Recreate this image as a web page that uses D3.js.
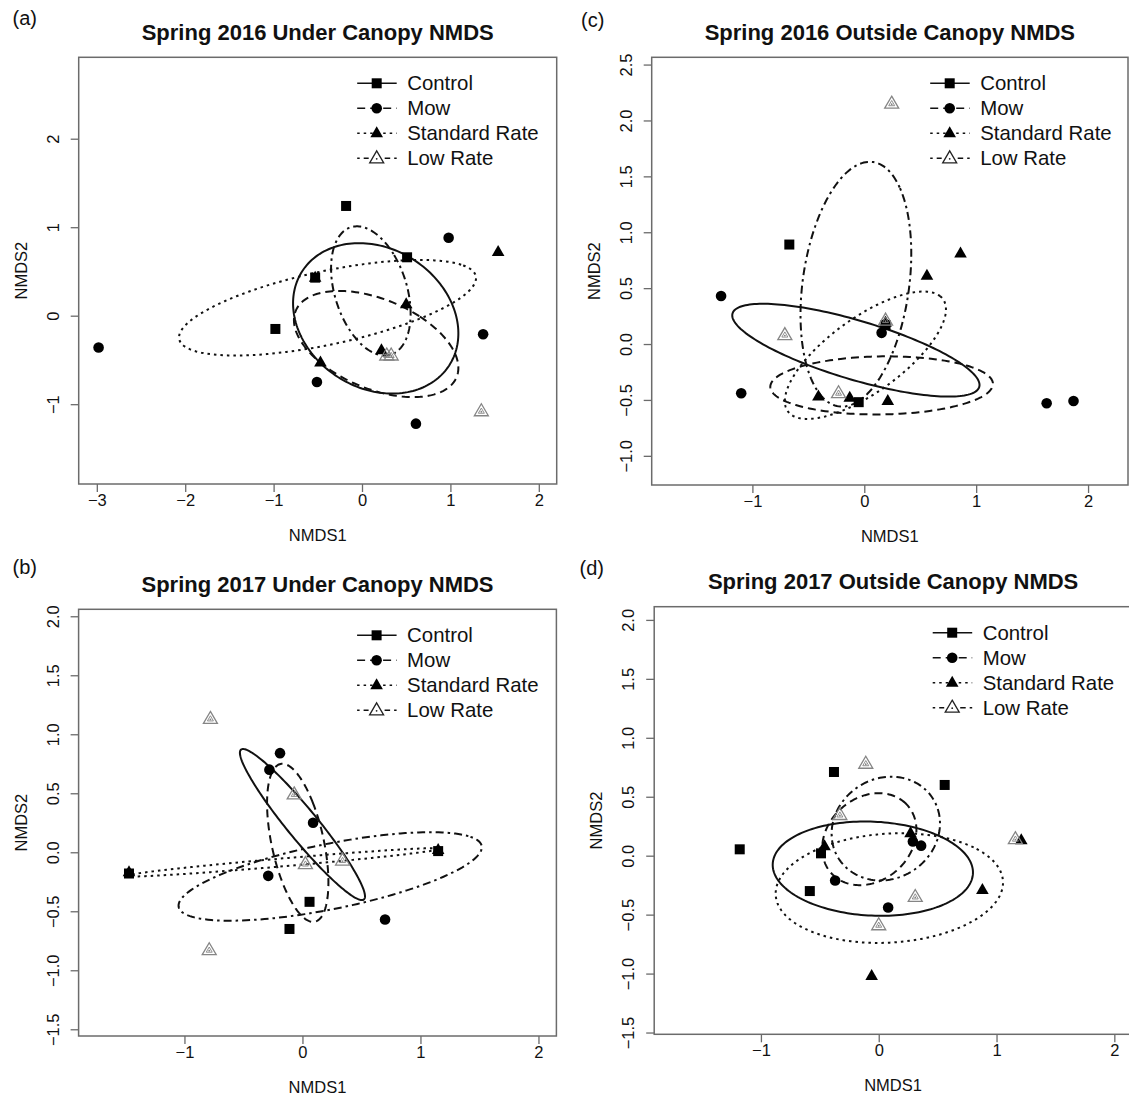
<!DOCTYPE html>
<html>
<head>
<meta charset="utf-8">
<script src="https://cdn.jsdelivr.net/npm/d3@7"></script>
<style>
  body { margin: 0; background: #fff; }
  svg { display: block; font-family: "Liberation Sans", Arial, sans-serif; }
</style>
</head>
<body>
<div id="chart"></div>
<script>
const width = 1129;
const height = 1096;

const groups = ["Control", "Mow", "Standard Rate", "Low Rate"];
const dashes = [null, "8,5", "2.5,4", "2.5,4,8,4"];

// ---- (a) Spring 2016 Under Canopy ----
const aXTicks = [-3, -2, -1, 0, 1, 2];
const aYTicks = [-1, 0, 1, 2];
const aControl = [[-0.18, 1.24], [0.51, 0.66], [-0.98, -0.15], [-0.53, 0.43]];
const aMow = [[0.98, 0.88], [-2.98, -0.36], [1.37, -0.21], [-0.51, -0.75], [0.61, -1.22]];
const aStandard = [[1.54, 0.72], [-0.53, 0.43], [0.5, 0.13], [0.22, -0.39], [-0.47, -0.53]];
const aLow = [[0.28, -0.45], [0.33, -0.45], [1.35, -1.08]];
// ellipse: [cx, cy, sx, sy, rho]
const aEllipses = [
  [0.155, -0.03, 0.935, 0.85, -0.2],
  [0.16, -0.32, 0.93, 0.6, -0.45],
  [-0.39, 0.09, 1.68, 0.54, 0.62],
  [0.1, 0.28, 0.45, 0.73, -0.35]
];

// ---- (c) Spring 2016 Outside Canopy ----
const cXTicks = [-1, 0, 1, 2];
const cYTicks = [-1, -0.5, 0, 0.5, 1, 1.5, 2, 2.5];
const cControl = [[-0.67, 0.89], [0.19, 0.17], [-0.05, -0.52]];
const cMow = [[-1.28, 0.43], [-1.1, -0.44], [0.155, 0.1], [1.63, -0.53], [1.87, -0.51]];
const cStandard = [[0.86, 0.81], [0.56, 0.61], [-0.41, -0.47], [-0.13, -0.48], [0.21, -0.51], [0.19, 0.19]];
const cLow = [[0.245, 2.15], [-0.71, 0.08], [-0.23, -0.44], [0.19, 0.21]];
const cEllipses = [
  [-0.075, -0.055, 1.105, 0.415, -0.75],
  [0.155, -0.37, 0.995, 0.26, 0.05],
  [0.01, -0.1, 0.72, 0.57, 0.72],
  [-0.075, 0.535, 0.495, 1.095, 0.25]
];

// ---- (b) Spring 2017 Under Canopy ----
const bXTicks = [-1, 0, 1, 2];
const bYTicks = [-1.5, -1, -0.5, 0, 0.5, 1, 1.5, 2];
const bControl = [[-1.47, -0.18], [1.15, 0.01], [0.06, -0.42], [-0.11, -0.65]];
const bMow = [[-0.19, 0.84], [-0.28, 0.7], [0.09, 0.25], [-0.29, -0.2], [0.7, -0.57]];
const bStandard = [[-1.47, -0.17], [1.15, 0.02]];
const bLow = [[-0.78, 1.13], [-0.07, 0.49], [0.025, -0.1], [0.34, -0.07], [-0.79, -0.83]];
const bEllipses = [
  [0.0, 0.235, 0.53, 0.64, -0.95],
  [-0.04, 0.08, 0.26, 0.67, -0.5],
  [-0.16, -0.085, 1.33, 0.12, 0.96],
  [0.235, -0.205, 1.285, 0.375, 0.66]
];

// ---- (d) Spring 2017 Outside Canopy ----
const dXTicks = [-1, 0, 1, 2];
const dYTicks = [-1.5, -1, -0.5, 0, 0.5, 1, 1.5, 2];
const dControl = [[-0.38, 0.71], [0.56, 0.6], [-1.18, 0.054], [-0.585, -0.3], [-0.49, 0.02]];
const dMow = [[-0.37, -0.21], [0.08, -0.44], [0.29, 0.12], [0.36, 0.085]];
const dStandard = [[-0.46, 0.08], [0.27, 0.19], [1.21, 0.13], [0.88, -0.29], [-0.06, -1.02]];
const dLow = [[-0.11, 0.78], [-0.33, 0.345], [0.31, -0.35], [0, -0.59], [1.16, 0.14]];
const dEllipses = [
  [-0.05, -0.11, 0.85, 0.4, -0.08],
  [-0.08, 0.14, 0.4, 0.39, 0.2],
  [0.09, -0.275, 0.965, 0.465, 0.1],
  [0.06, 0.23, 0.46, 0.44, 0.1]
];

// layout of the four panels (pixel boxes and matching axis limits)
const panels = [
  { label: "(a)", labelPos: [12.5, 25], title: "Spring 2016 Under Canopy NMDS",
    box: [78.7, 57.3, 556.7, 484], xDomain: [-3.205, 2.2025], yDomain: [-1.902, 2.92],
    xTicks: aXTicks, yTicks: aYTicks, fmt: d3.format("d"),
    series: [aControl, aMow, aStandard, aLow], ellipses: aEllipses },
  { label: "(c)", labelPos: [581, 27], title: "Spring 2016 Outside Canopy NMDS",
    box: [651.7, 57.3, 1128, 485], xDomain: [-1.9, 2.357], yDomain: [-1.261, 2.565],
    xTicks: cXTicks, yTicks: cYTicks, fmt: d3.format(".1f"),
    series: [cControl, cMow, cStandard, cLow], ellipses: cEllipses },
  { label: "(b)", labelPos: [12.5, 574], title: "Spring 2017 Under Canopy NMDS",
    box: [78.6, 609.3, 556.4, 1036], xDomain: [-1.897, 2.152], yDomain: [-1.557, 2.059],
    xTicks: bXTicks, yTicks: bYTicks, fmt: d3.format(".1f"),
    series: [bControl, bMow, bStandard, bLow], ellipses: bEllipses },
  { label: "(d)", labelPos: [579.5, 575], title: "Spring 2017 Outside Canopy NMDS",
    box: [654.2, 606.7, 1132, 1034.3], xDomain: [-1.906, 2.15], yDomain: [-1.515, 2.112],
    xTicks: dXTicks, yTicks: dYTicks, fmt: d3.format(".1f"),
    series: [dControl, dMow, dStandard, dLow], ellipses: dEllipses }
];

const axisColor = "#6b6b6b";
const lowColor = "#858585";

// R-style ellipse outline from centre, half-widths and correlation
function ellipsePoints([cx, cy, sx, sy, rho]) {
  const d = Math.acos(rho);
  return d3.range(0, 2 * Math.PI, Math.PI / 90)
    .map((t) => [cx + sx * Math.cos(t + d / 2), cy + sy * Math.cos(t - d / 2)]);
}

function drawMarker(g, i, px, py, legend) {
  if (i === 0) {
    g.append("rect")
      .attr("x", px - 5).attr("y", py - 5)
      .attr("width", 10).attr("height", 10)
      .attr("fill", "#000");
  } else if (i === 1) {
    g.append("circle")
      .attr("cx", px).attr("cy", py).attr("r", 5.3)
      .attr("fill", "#000");
  } else if (i === 2) {
    g.append("path")
      .attr("d", `M${px},${py - 7}L${px + 6.3},${py + 4}L${px - 6.3},${py + 4}Z`)
      .attr("fill", "#000");
  } else {
    const c = legend ? "#222" : lowColor;
    g.append("path")
      .attr("d", `M${px},${py - 7.5}L${px + 7},${py + 4.5}L${px - 7},${py + 4.5}Z`)
      .attr("fill", "none")
      .attr("stroke", c)
      .attr("stroke-width", 1.3);
    if (!legend) {
      g.append("path")
        .attr("d", `M${px},${py - 3.2}L${px + 3},${py + 2}L${px - 3},${py + 2}Z`)
        .attr("fill", "none")
        .attr("stroke", c)
        .attr("stroke-width", 0.9);
    }
    g.append("circle")
      .attr("cx", px).attr("cy", py + 0.5).attr("r", 0.9)
      .attr("fill", c);
  }
}

const svg = d3
  .select("#chart")
  .append("svg")
  .attr("width", width)
  .attr("height", height)
  .attr("viewBox", [0, 0, width, height]);

panels.forEach((p) => {
  const [left, top, right, bottom] = p.box;
  const x = d3.scaleLinear().domain(p.xDomain).range([left, right]);
  const y = d3.scaleLinear().domain(p.yDomain).range([bottom, top]);
  const g = svg.append("g");

  // panel letter and title
  g.append("text")
    .attr("x", p.labelPos[0])
    .attr("y", p.labelPos[1])
    .attr("font-size", "20px")
    .attr("fill", "#111")
    .text(p.label);

  g.append("text")
    .attr("x", (left + right) / 2)
    .attr("y", top - 17.5)
    .attr("text-anchor", "middle")
    .attr("font-size", "22px")
    .attr("font-weight", "bold")
    .attr("fill", "#111")
    .text(p.title);

  // x axis
  const xAxis = g.append("g")
    .attr("transform", `translate(0,${bottom})`)
    .call(d3.axisBottom(x).tickValues(p.xTicks).tickSize(8).tickFormat(d3.format("d")))
    .call((g) => g.select(".domain").remove());
  xAxis.selectAll(".tick line").attr("stroke", axisColor).attr("stroke-width", 1.3);
  xAxis.selectAll(".tick text")
    .attr("y", 22)
    .attr("dy", 0)
    .attr("font-size", "16.5px")
    .attr("font-family", "Liberation Sans, Arial, sans-serif")
    .attr("fill", "#111");

  // y axis, labels parallel to the axis
  const yAxis = g.append("g")
    .attr("transform", `translate(${left},0)`)
    .call(d3.axisLeft(y).tickValues(p.yTicks).tickSize(8).tickFormat(p.fmt))
    .call((g) => g.select(".domain").remove());
  yAxis.selectAll(".tick line").attr("stroke", axisColor).attr("stroke-width", 1.3);
  yAxis.selectAll(".tick text")
    .attr("x", 0)
    .attr("dy", 0)
    .attr("transform", "translate(-20,0) rotate(-90)")
    .attr("text-anchor", "middle")
    .attr("font-size", "16.5px")
    .attr("font-family", "Liberation Sans, Arial, sans-serif")
    .attr("fill", "#111");

  g.append("text")
    .attr("x", (left + right) / 2)
    .attr("y", bottom + 57)
    .attr("text-anchor", "middle")
    .attr("font-size", "16.5px")
    .attr("fill", "#111")
    .text("NMDS1");

  g.append("text")
    .attr("transform", `translate(${left - 52},${(top + bottom) / 2}) rotate(-90)`)
    .attr("text-anchor", "middle")
    .attr("font-size", "16.5px")
    .attr("fill", "#111")
    .text("NMDS2");

  // plot box
  g.append("rect")
    .attr("x", left).attr("y", top)
    .attr("width", right - left).attr("height", bottom - top)
    .attr("fill", "none")
    .attr("stroke", axisColor)
    .attr("stroke-width", 1.5);

  // ellipses
  const line = d3.line()
    .x((d) => x(d[0]))
    .y((d) => y(d[1]))
    .curve(d3.curveLinearClosed);

  g.append("g")
    .selectAll("path")
    .data(p.ellipses)
    .join("path")
    .attr("d", (e) => line(ellipsePoints(e)))
    .attr("fill", "none")
    .attr("stroke", "#111")
    .attr("stroke-width", 2)
    .attr("stroke-dasharray", (e, i) => dashes[i]);

  // points
  const pts = g.append("g");
  p.series.forEach((s, i) => {
    s.forEach((d) => drawMarker(pts, i, x(d[0]), y(d[1]), false));
  });

  // legend (no frame)
  const lg = g.append("g");
  groups.forEach((name, i) => {
    const ry = top + 26 + 25 * i;
    lg.append("line")
      .attr("x1", left + 278.5).attr("x2", left + 318)
      .attr("y1", ry).attr("y2", ry)
      .attr("stroke", "#111")
      .attr("stroke-width", 1.6)
      .attr("stroke-dasharray", dashes[i]);
    if (i === 3) {
      lg.append("rect")
        .attr("x", left + 290).attr("y", ry - 8)
        .attr("width", 16).attr("height", 13)
        .attr("fill", "#fff");
    }
    drawMarker(lg, i, left + 298, ry, true);
    lg.append("text")
      .attr("x", left + 328.5)
      .attr("y", ry + 7)
      .attr("font-size", "20.4px")
      .attr("fill", "#111")
      .text(name);
  });
});
</script>
</body>
</html>
